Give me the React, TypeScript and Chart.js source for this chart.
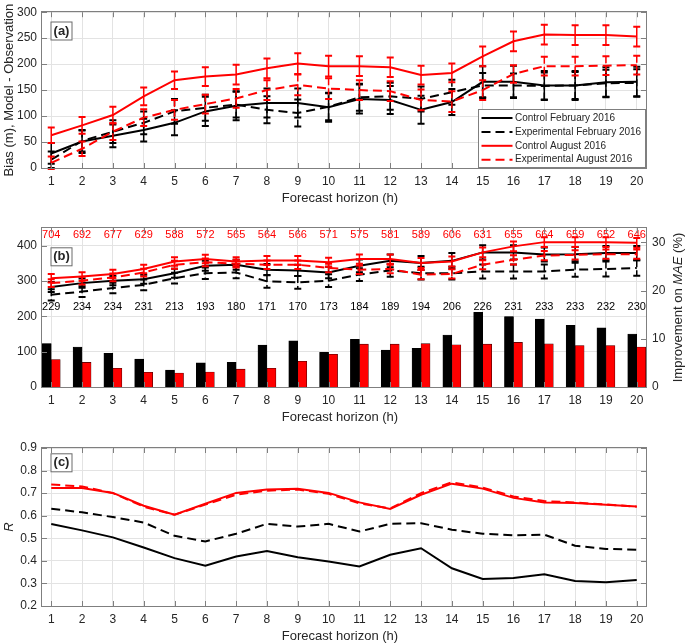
import React, { useEffect, useRef } from 'react';
import { Chart, registerables } from 'chart.js';

Chart.register(...registerables);

const FONT = "'Liberation Sans', Arial, Helvetica, sans-serif";
const TXT = '#262626';
const GRID = '#e3e3e3';
const AXIS = '#7f7f7f';
const RED = '#ff0000';
const BLACK = '#000000';
const DASH = [9, 5];

// ---- categories / ticks ----
const hours = [1, 2, 3, 4, 5, 6, 7, 8, 9, 10, 11, 12, 13, 14, 15, 16, 17, 18, 19, 20];
const biasTicks = [0, 50, 100, 150, 200, 250, 300];
const maeTicks = [0, 100, 200, 300, 400];
const impTicks = [0, 10, 20, 30];
const rTicks = [0.2, 0.3, 0.4, 0.5, 0.6, 0.7, 0.8, 0.9];

// ---- panel (a): bias ----
const ctrlFebBias = [28, 51, 62, 73, 87, 109, 120, 125, 125, 117, 133, 131, 112, 127, 166, 166, 159, 159, 165, 166];
const expFebBias = [16, 52, 70, 87, 109, 116, 122, 112, 106, 118, 136, 138, 133, 146, 159, 159, 158, 159, 163, 164];
const ctrlAugBias = [63, 82, 102, 138, 169, 176, 180, 192, 201, 196, 196, 194, 179, 183, 215, 244, 257, 256, 256, 253];
const expAugBias = [10, 37, 70, 97, 112, 123, 134, 150, 160, 153, 150, 148, 131, 128, 150, 181, 196, 196, 197, 198];
const ctrlFebBiasErr = [20, 22, 22, 22, 24, 28, 28, 28, 28, 28, 28, 27, 27, 25, 30, 31, 28, 28, 29, 29];
const expFebBiasErr = [16, 20, 22, 22, 24, 25, 25, 26, 26, 26, 26, 26, 24, 24, 24, 23, 26, 26, 26, 26];
const ctrlAugBiasErr = [15, 16, 16, 17, 17, 18, 19, 19, 20, 20, 19, 19, 18, 18, 19, 19, 19, 19, 19, 19];
const expAugBiasErr = [12, 14, 16, 16, 19, 18, 18, 19, 20, 20, 19, 19, 20, 20, 19, 17, 18, 18, 18, 18];

// ---- panel (b): MAE and improvement ----
const ctrlFebMae = [283, 294, 301, 305, 322, 343, 346, 332, 330, 324, 343, 357, 351, 357, 381, 381, 375, 376, 379, 379];
const expFebMae = [261, 270, 280, 289, 308, 322, 324, 299, 296, 301, 318, 330, 322, 322, 327, 327, 327, 332, 334, 337];
const ctrlAugMae = [308, 313, 320, 334, 355, 362, 355, 358, 358, 353, 362, 362, 351, 355, 381, 398, 410, 410, 410, 408];
const expAugMae = [294, 301, 310, 324, 346, 353, 349, 346, 346, 337, 332, 334, 318, 320, 346, 360, 372, 374, 376, 376];
const ctrlFebMaeErr = [14, 13, 13, 13, 13, 14, 14, 16, 16, 16, 18, 18, 20, 22, 20, 20, 20, 20, 20, 20];
const expFebMaeErr = [16, 15, 15, 15, 15, 16, 16, 18, 18, 18, 18, 18, 18, 18, 20, 20, 20, 20, 21, 22];
const ctrlAugMaeErr = [12, 12, 12, 12, 12, 12, 12, 13, 13, 13, 13, 13, 14, 14, 14, 14, 14, 14, 14, 14];
const expAugMaeErr = [11, 11, 11, 11, 11, 11, 11, 12, 12, 12, 12, 12, 13, 13, 13, 13, 13, 13, 13, 13];
const febImprovement = [9.0, 8.3, 7.0, 5.8, 3.5, 5.0, 5.1, 8.7, 9.6, 7.2, 9.9, 7.65, 8.0, 10.8, 15.5, 14.6, 14.1, 12.8, 12.3, 11.0];
const augImprovement = [5.7, 5.1, 3.9, 3.06, 2.9, 3.1, 3.7, 3.9, 5.35, 6.8, 8.9, 8.9, 9.0, 8.75, 8.9, 9.25, 8.95, 8.6, 8.6, 8.3];
const augCounts = [704, 692, 677, 629, 588, 572, 565, 564, 566, 571, 575, 581, 589, 606, 631, 655, 664, 659, 652, 646];
const febCounts = [229, 234, 234, 231, 213, 193, 180, 171, 170, 173, 184, 189, 194, 206, 226, 231, 233, 233, 232, 230];
const augCountLevel = 430;
const febCountLevel = 227;

// ---- panel (c): correlation ----
const ctrlFebR = [0.563, 0.535, 0.504, 0.459, 0.412, 0.378, 0.419, 0.444, 0.416, 0.397, 0.375, 0.427, 0.456, 0.367, 0.320, 0.324, 0.341, 0.311, 0.305, 0.315];
const expFebR = [0.631, 0.615, 0.594, 0.570, 0.511, 0.486, 0.520, 0.564, 0.552, 0.564, 0.530, 0.564, 0.567, 0.538, 0.520, 0.513, 0.516, 0.467, 0.453, 0.449];
const ctrlAugR = [0.723, 0.723, 0.701, 0.644, 0.604, 0.653, 0.701, 0.716, 0.719, 0.701, 0.659, 0.630, 0.693, 0.742, 0.720, 0.679, 0.659, 0.656, 0.649, 0.641];
const expAugR = [0.738, 0.730, 0.700, 0.640, 0.604, 0.649, 0.693, 0.711, 0.716, 0.697, 0.655, 0.632, 0.700, 0.748, 0.725, 0.685, 0.665, 0.658, 0.650, 0.640];

const seriesNames = ['Control February 2016', 'Experimental February 2016', 'Control August 2016', 'Experimental August 2016'];

type Part = { text: string; italic?: boolean };

function lineDs(label: string, data: number[], color: string, dashed: boolean, order: number, errors?: number[]) {
  return {
    type: 'line',
    label,
    data,
    borderColor: color,
    backgroundColor: color,
    borderWidth: 2,
    borderDash: dashed ? DASH : [],
    pointRadius: 0,
    pointHoverRadius: 0,
    tension: 0,
    fill: false,
    yAxisID: 'y',
    order,
    errors,
  };
}

function xScale(height: number) {
  return {
    type: 'linear',
    position: 'bottom',
    min: 0.7,
    max: 20.3,
    offset: false,
    afterBuildTicks: (s: any) => { s.ticks = hours.map((v) => ({ value: v })); },
    afterFit: (s: any) => { s.height = height; },
    grid: { color: GRID, drawTicks: false, offset: false, lineWidth: 1 },
    border: { display: false },
    ticks: { color: TXT, font: { size: 12, family: FONT }, padding: 6, autoSkip: false, maxRotation: 0, minRotation: 0, callback: (v: any) => String(v) },
  };
}

function yScale(min: number, max: number, vals: number[], fmt: (v: number) => string, position: string, grid: boolean, width: number) {
  return {
    type: 'linear',
    position,
    min,
    max,
    afterBuildTicks: (s: any) => { s.ticks = vals.map((v) => ({ value: v })); },
    afterFit: (s: any) => { s.width = width; },
    grid: { display: grid, color: GRID, drawTicks: false, lineWidth: 1 },
    border: { display: false },
    ticks: { color: TXT, font: { size: 12, family: FONT }, padding: position === 'left' ? 5 : 6, autoSkip: false, callback: (v: any) => fmt(Number(v)) },
  };
}

function drawRich(ctx: CanvasRenderingContext2D, parts: Part[], x: number, y: number, rot: number, size: number, weight = '') {
  ctx.save();
  ctx.translate(x, y);
  ctx.rotate(rot);
  ctx.textBaseline = 'middle';
  ctx.textAlign = 'left';
  ctx.fillStyle = TXT;
  const fonts = parts.map((p) => `${p.italic ? 'italic ' : ''}${weight ? weight + ' ' : ''}${size}px ${FONT}`);
  const widths = parts.map((p, i) => { ctx.font = fonts[i]; return ctx.measureText(p.text).width; });
  const total = widths.reduce((a, b) => a + b, 0);
  let cx = -total / 2;
  parts.forEach((p, i) => { ctx.font = fonts[i]; ctx.fillText(p.text, cx, 0); cx += widths[i]; });
  ctx.restore();
}

type DecoCfg = {
  yTitle: Part[];
  y2Title?: Part[];
  yTitleY?: number;
  panel: string;
  panelTop: number;
  legend?: boolean;
  counts?: boolean;
};

function makeDeco(cfg: DecoCfg) {
  return {
    id: 'deco',
    afterDatasetDraw(chart: any, args: any) {
      const ds = chart.data.datasets[args.index];
      if (!ds.errors) return;
      const meta = args.meta;
      const ys = chart.scales[meta.yAxisID];
      const ctx = chart.ctx as CanvasRenderingContext2D;
      ctx.save();
      ctx.strokeStyle = ds.borderColor;
      meta.data.forEach((pt: any, i: number) => {
        const v = ds.data[i];
        const e = ds.errors[i];
        const x = pt.x;
        const yt = ys.getPixelForValue(v + e);
        const yb = ys.getPixelForValue(v - e);
        ctx.lineWidth = 1.5;
        ctx.setLineDash(ds.borderDash && ds.borderDash.length ? [7, 3] : []);
        ctx.beginPath();
        ctx.moveTo(x, yt);
        ctx.lineTo(x, yb);
        ctx.stroke();
        ctx.setLineDash([]);
        ctx.lineWidth = 2;
        ctx.beginPath();
        ctx.moveTo(x - 3.5, yt);
        ctx.lineTo(x + 3.5, yt);
        ctx.moveTo(x - 3.5, yb);
        ctx.lineTo(x + 3.5, yb);
        ctx.stroke();
      });
      ctx.restore();
    },
    afterDraw(chart: any) {
      const ctx = chart.ctx as CanvasRenderingContext2D;
      const { left, right, top, bottom } = chart.chartArea;
      const xs = chart.scales.x;
      const ys = chart.scales.y;
      const y2 = chart.scales.y2;
      ctx.save();

      // counts (panel b)
      if (cfg.counts) {
        ctx.font = `11px ${FONT}`;
        ctx.textAlign = 'center';
        ctx.textBaseline = 'middle';
        hours.forEach((h, i) => {
          const x = xs.getPixelForValue(h);
          ctx.fillStyle = RED;
          ctx.fillText(String(augCounts[i]), x, ys.getPixelForValue(augCountLevel));
          ctx.fillStyle = BLACK;
          ctx.fillText(String(febCounts[i]), x, ys.getPixelForValue(febCountLevel));
        });
      }

      // box
      ctx.strokeStyle = AXIS;
      ctx.lineWidth = 1;
      ctx.setLineDash([]);
      ctx.strokeRect(Math.round(left) - 0.5, Math.round(top) - 0.5, Math.round(right - left) + 1, Math.round(bottom - top) + 1);

      // inner ticks
      const TL = 5;
      ctx.beginPath();
      xs.ticks.forEach((t: any) => {
        const x = Math.round(xs.getPixelForValue(t.value)) + 0.5;
        ctx.moveTo(x, bottom);
        ctx.lineTo(x, bottom - TL);
        ctx.moveTo(x, top);
        ctx.lineTo(x, top + TL);
      });
      ys.ticks.forEach((t: any) => {
        const y = Math.round(ys.getPixelForValue(t.value)) + 0.5;
        ctx.moveTo(left, y);
        ctx.lineTo(left + TL, y);
        if (!y2) {
          ctx.moveTo(right, y);
          ctx.lineTo(right - TL, y);
        }
      });
      if (y2) {
        y2.ticks.forEach((t: any) => {
          const y = Math.round(y2.getPixelForValue(t.value)) + 0.5;
          ctx.moveTo(right, y);
          ctx.lineTo(right - TL, y);
        });
      }
      ctx.stroke();

      // titles
      drawRich(ctx, [{ text: 'Forecast horizon (h)' }], 340, bottom + 30, 0, 13);
      drawRich(ctx, cfg.yTitle, 9, cfg.yTitleY ?? (top + bottom) / 2, -Math.PI / 2, 13);
      if (cfg.y2Title) drawRich(ctx, cfg.y2Title, 678, (top + bottom) / 2, -Math.PI / 2, 13);

      // panel label
      const bx = left + 8.5;
      const by = top + cfg.panelTop;
      ctx.fillStyle = '#ffffff';
      ctx.fillRect(bx, by, 22, 19);
      ctx.strokeStyle = '#6a6a6a';
      ctx.lineWidth = 1;
      ctx.strokeRect(bx + 0.5, by + 0.5, 21, 18);
      drawRich(ctx, [{ text: cfg.panel }], bx + 11, by + 9.5, 0, 13, 'bold');

      // legend (panel a)
      if (cfg.legend) {
        const w = 168;
        const h = 59;
        const lx = Math.round(right) - w;
        const ly = Math.round(bottom) - h;
        ctx.fillStyle = '#ffffff';
        ctx.fillRect(lx, ly, w, h);
        ctx.strokeStyle = AXIS;
        ctx.strokeRect(lx + 0.5, ly + 0.5, w - 1, h - 1);
        const items = [
          { c: BLACK, d: false },
          { c: BLACK, d: true },
          { c: RED, d: false },
          { c: RED, d: true },
        ];
        items.forEach((it, i) => {
          const yy = ly + 9 + i * 13.9;
          ctx.strokeStyle = it.c;
          ctx.lineWidth = 2;
          ctx.setLineDash(it.d ? DASH : []);
          ctx.beginPath();
          ctx.moveTo(lx + 3.5, yy);
          ctx.lineTo(lx + 34.5, yy);
          ctx.stroke();
          ctx.setLineDash([]);
          ctx.fillStyle = TXT;
          ctx.font = `10px ${FONT}`;
          ctx.textAlign = 'left';
          ctx.textBaseline = 'middle';
          ctx.fillText(seriesNames[i], lx + 37, yy);
        });
      }
      ctx.restore();
    },
  };
}

function baseOptions(padTop: number, padRight: number, scales: any) {
  return {
    responsive: true,
    maintainAspectRatio: false,
    animation: false,
    events: [],
    layout: { padding: { top: padTop, right: padRight, left: 0, bottom: 0 } },
    plugins: { legend: { display: false }, tooltip: { enabled: false }, title: { display: false } },
    scales,
  };
}

export default function App() {
  const refA = useRef<HTMLCanvasElement>(null);
  const refB = useRef<HTMLCanvasElement>(null);
  const refC = useRef<HTMLCanvasElement>(null);

  useEffect(() => {
    Chart.defaults.font.family = FONT;
    const charts: Chart[] = [];

    charts.push(new Chart(refA.current as HTMLCanvasElement, {
      type: 'line',
      data: {
        labels: hours,
        datasets: [
          lineDs(seriesNames[0], ctrlFebBias, BLACK, false, 4, ctrlFebBiasErr),
          lineDs(seriesNames[1], expFebBias, BLACK, true, 3, expFebBiasErr),
          lineDs(seriesNames[2], ctrlAugBias, RED, false, 2, ctrlAugBiasErr),
          lineDs(seriesNames[3], expAugBias, RED, true, 1, expAugBiasErr),
        ] as any,
      },
      options: baseOptions(9, 39, {
        x: xScale(42),
        y: yScale(0, 300, biasTicks, (v) => String(v), 'left', true, 42),
      }) as any,
      plugins: [makeDeco({ yTitle: [{ text: 'Bias (m), Model - Observation' }], panel: '(a)', panelTop: 9.3, legend: true })],
    }));

    charts.push(new Chart(refB.current as HTMLCanvasElement, {
      type: 'bar',
      data: {
        labels: hours,
        datasets: [
          lineDs(seriesNames[0], ctrlFebMae, BLACK, false, 4, ctrlFebMaeErr),
          lineDs(seriesNames[1], expFebMae, BLACK, true, 3, expFebMaeErr),
          lineDs(seriesNames[2], ctrlAugMae, RED, false, 2, ctrlAugMaeErr),
          lineDs(seriesNames[3], expAugMae, RED, true, 1, expAugMaeErr),
          { type: 'bar', label: 'February improvement', data: febImprovement, backgroundColor: BLACK, borderColor: '#000000', borderWidth: 0.5, barThickness: 9, yAxisID: 'y2', order: 5 },
          { type: 'bar', label: 'August improvement', data: augImprovement, backgroundColor: RED, borderColor: '#3a0000', borderWidth: 0.6, barThickness: 9, yAxisID: 'y2', order: 6 },
        ] as any,
      },
      options: baseOptions(18, 0, {
        x: xScale(39),
        y: yScale(0, 450, maeTicks, (v) => String(v), 'left', true, 42),
        y2: yScale(0, 33, impTicks, (v) => String(v), 'right', false, 39),
      }) as any,
      plugins: [makeDeco({
        yTitle: [{ text: 'MAE', italic: true }, { text: ' (m)' }],
        yTitleY: 311,
        y2Title: [{ text: 'Improvement on ' }, { text: 'MAE', italic: true }, { text: ' (%)' }],
        panel: '(b)',
        panelTop: 19.3,
        counts: true,
      })],
    }));

    charts.push(new Chart(refC.current as HTMLCanvasElement, {
      type: 'line',
      data: {
        labels: hours,
        datasets: [
          lineDs(seriesNames[0], ctrlFebR, BLACK, false, 4),
          lineDs(seriesNames[1], expFebR, BLACK, true, 3),
          lineDs(seriesNames[2], ctrlAugR, RED, false, 2),
          lineDs(seriesNames[3], expAugR, RED, true, 1),
        ] as any,
      },
      options: baseOptions(28, 39, {
        x: xScale(37),
        y: yScale(0.2, 0.9, rTicks, (v) => v.toFixed(1), 'left', true, 42),
      }) as any,
      plugins: [makeDeco({ yTitle: [{ text: 'R', italic: true }], panel: '(c)', panelTop: 5.3 })],
    }));

    return () => { charts.forEach((c) => c.destroy()); };
  }, []);

  const box = (top: number, height: number): React.CSSProperties => ({ position: 'absolute', left: 0, top, width: 685, height });

  return (
    <div style={{ position: 'absolute', left: 0, top: 0, width: 685, height: 643, background: '#ffffff', overflow: 'hidden' }}>
      <div style={box(0, 210)}><canvas ref={refA} /></div>
      <div style={box(210, 216)}><canvas ref={refB} /></div>
      <div style={box(420, 223)}><canvas ref={refC} /></div>
    </div>
  );
}
